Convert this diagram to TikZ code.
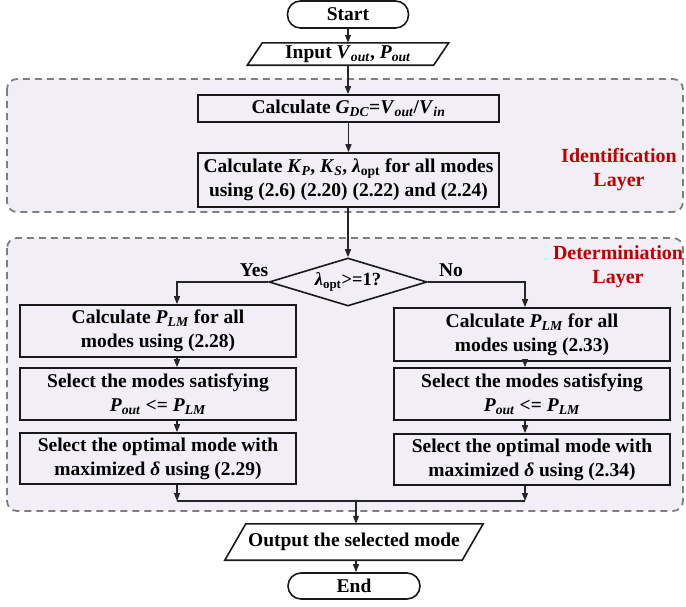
\documentclass[tikz,border=0pt]{standalone}
\usepackage{fontspec}
\setmainfont{Liberation Serif}
\usetikzlibrary{arrows.meta,shapes.geometric,calc}
\definecolor{layerfill}{HTML}{F1EFF5}
\definecolor{layerdash}{HTML}{7F7F7F}
\definecolor{lblred}{HTML}{C00000}
\newcommand{\subi}[2]{\textit{#1}\textsubscript{\textit{#2}}}
\begin{document}
\begin{tikzpicture}[x=1pt,y=-1pt,
  every node/.style={font=\fontsize{19.5}{24}\selectfont\bfseries, align=center, inner sep=0pt},
  layer/.style={draw=layerdash, fill=layerfill, line width=1.8pt, dash pattern=on 7pt off 5pt, rounded corners=10pt},
  procbox/.style={draw=black!90, line width=1.6pt, rectangle},
  term/.style={draw=black!90, line width=1.6pt, rectangle, rounded corners=13pt},
  boxline/.style={draw=black!90, line width=1.6pt, line join=miter},
  arr/.style={draw=black!85, line width=1.2pt, -{Triangle[length=8pt,width=6pt]}},
  conn/.style={draw=black!85, line width=1.2pt},
  lbl/.style={text=lblred, font=\fontsize{20}{24}\selectfont\bfseries}
]
\useasboundingbox (0,0) rectangle (686,606);

% layers
\draw[layer] (7,79) rectangle (683,212);
\draw[layer] (7,238) rectangle (683,511);

% start / input
\node[term, minimum width=121pt, minimum height=27pt] (start) at (348,14.5) {Start};
\node[minimum width=201pt, minimum height=22pt] (input) at (348,54) {Input \subi{V}{out}, \subi{P}{out}};
\draw[boxline] ([xshift=15pt]input.north west) -- (input.north east) -- ([xshift=-15pt]input.south east) -- (input.south west) -- cycle;

% identification layer
\node[procbox, minimum width=301pt, minimum height=27pt] (gdc) at (348.5,108.5) {Calculate \subi{G}{DC}=\subi{V}{out}/\subi{V}{in}};
\node[procbox, minimum width=301pt, minimum height=54pt] (kp) at (348.5,180) {Calculate \subi{K}{P}, \subi{K}{S}, \textit{λ}\textsubscript{opt} for all modes\\using (2.6) (2.20) (2.22) and (2.24)};
\node[lbl] (idl) at (619,170) {Identification\\Layer};

% determination layer
\node[diamond, draw=black!90, line width=1.6pt, aspect=3.3, minimum width=158pt, minimum height=48pt, font=\fontsize{18.5}{20}\selectfont\bfseries] (dec) at (348,282) {\textit{λ}\textsubscript{opt}>=1?};
\node (yes) at (254,270) {Yes};
\node (no) at (451,270) {No};
\node[lbl] (detl) at (618,267) {Determiniation\\Layer};

\node[procbox, minimum width=276pt, minimum height=52pt] (lcalc) at (158,331) {Calculate \subi{P}{LM} for all\\modes using (2.28)};
\node[procbox, minimum width=276pt, minimum height=52pt] (lsel) at (158,394) {Select the modes satisfying\\\subi{P}{out} <= \subi{P}{LM}};
\node[procbox, minimum width=276pt, minimum height=51pt] (lopt) at (158,458.5) {Select the optimal mode with\\maximized \textit{δ} using (2.29)};

\node[procbox, minimum width=276pt, minimum height=53pt] (rcalc) at (532,334.5) {Calculate \subi{P}{LM} for all\\modes using (2.33)};
\node[procbox, minimum width=276pt, minimum height=52pt] (rsel) at (532,394) {Select the modes satisfying\\\subi{P}{out} <= \subi{P}{LM}};
\node[procbox, minimum width=276pt, minimum height=51pt] (ropt) at (532,459.5) {Select the optimal mode with\\maximized \textit{δ} using (2.34)};

% output / end
\node[minimum width=258pt, minimum height=36pt] (output) at (354,542) {Output the selected mode};
\draw[boxline] ([xshift=21pt]output.north west) -- (output.north east) -- ([xshift=-21pt]output.south east) -- (output.south west) -- cycle;
\node[term, minimum width=132pt, minimum height=26pt] (end) at (354,586) {End};

% coordinates
\coordinate (lx) at (177,0);
\coordinate (rx) at (525,0);
\coordinate (mergeL) at (177,501);
\coordinate (mergeR) at (525,501);
\coordinate (mergeC) at (356,501);

% connectors
\draw[arr] (start.south -| input.north) -- (input.north);
\draw[arr] (input.south) -- (input.south |- gdc.north);
\draw[arr] (gdc.south) -- (kp.north);
\draw[arr] (kp.south -| dec.north) -- (dec.north);
\draw[arr] (dec.west) -| (lcalc.north -| lx);
\draw[arr] (dec.east) -| (rcalc.north -| rx);
\draw[arr] (lcalc.south -| lx) -- (lsel.north -| lx);
\draw[arr] (lsel.south -| lx) -- (lopt.north -| lx);
\draw[arr] (rcalc.south -| rx) -- (rsel.north -| rx);
\draw[arr] (rsel.south -| rx) -- (ropt.north -| rx);
\draw[arr] (lopt.south -| lx) -- (mergeL);
\draw[arr] (ropt.south -| rx) -- (mergeR);
\draw[conn] (mergeL) -- (mergeR);
\draw[arr] (mergeC) -- (output.north -| mergeC);
\draw[arr] (output.south -| mergeC) -- (end.north -| mergeC);
\end{tikzpicture}
\end{document}
